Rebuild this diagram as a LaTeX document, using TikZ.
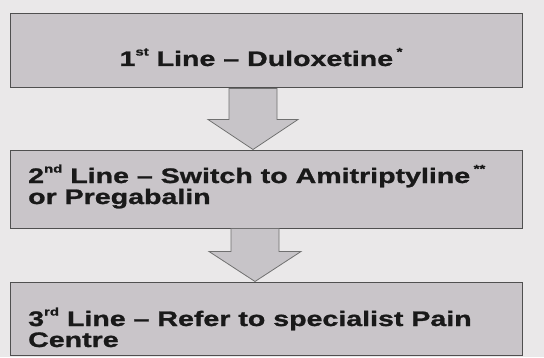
\documentclass[tikz,border=0pt]{standalone}
\usepackage{fontspec}
\newfontfamily\boxfont[FakeStretch=1.36,BoldFeatures={FakeBold=1.2}]{Liberation Sans}
\usetikzlibrary{calc}
\definecolor{bgc}{HTML}{EAE8E9}
\definecolor{boxfill}{HTML}{C9C5C9}
\definecolor{boxline}{HTML}{505050}
\definecolor{arrfill}{HTML}{C7C4C8}
\definecolor{arrline}{HTML}{707070}
\newcommand\supmark[1]{\raisebox{0.5em}{\fontsize{11}{11}\selectfont #1}}
\tikzset{
  stepbox/.style={draw=boxline, line width=1pt, fill=boxfill, minimum width=512pt, inner sep=0pt},
  steptext/.style={inner sep=0pt, font=\boxfont\bfseries\fontsize{21}{21}\selectfont, text=black!90},
  flowarrow/.style={draw=arrline, line width=0.8pt, fill=arrfill, line join=miter}
}
\begin{document}
\begin{tikzpicture}[x=1pt,y=1pt]
\useasboundingbox[fill=bgc] (0,0) rectangle (544,357);
% boxes
\node[stepbox, minimum height=74pt] (b1) at (266,306) {};
\node[stepbox, minimum height=78pt] (b2) at (266,168) {};
\node[stepbox, minimum height=73pt] (b3) at (266,38.5) {};
% arrows
\draw[flowarrow] ([xshift=-13pt]b2.north) -- ($([xshift=-13pt]b2.north)+(-45,30)$) -- ($([xshift=-13pt]b2.north)+(-24,30)$) -- ([xshift=-37pt]b1.south) -- ([xshift=11pt]b1.south) -- ($([xshift=-13pt]b2.north)+(24,30)$) -- ($([xshift=-13pt]b2.north)+(45,30)$) -- cycle;
\draw[flowarrow] ([xshift=-11pt]b3.north) -- ($([xshift=-11pt]b3.north)+(-46,30)$) -- ($([xshift=-11pt]b3.north)+(-24,30)$) -- ([xshift=-35pt]b2.south) -- ([xshift=13pt]b2.south) -- ($([xshift=-11pt]b3.north)+(24,30)$) -- ($([xshift=-11pt]b3.north)+(46,30)$) -- cycle;
% texts
\node[steptext, anchor=base] (t1) at (261,291) {1\supmark{st} Line \textendash{} Duloxetine\,\supmark{*}};
\node[steptext, anchor=base west, align=left] (t2) at (28,153) {2\supmark{nd} Line \textendash{} Switch to Amitriptyline\,\supmark{**}\\ or Pregabalin};
\node[steptext, anchor=base west, align=left] (t3) at (28,10) {3\supmark{rd} Line \textendash{} Refer to specialist Pain\\Centre};
\end{tikzpicture}
\end{document}
